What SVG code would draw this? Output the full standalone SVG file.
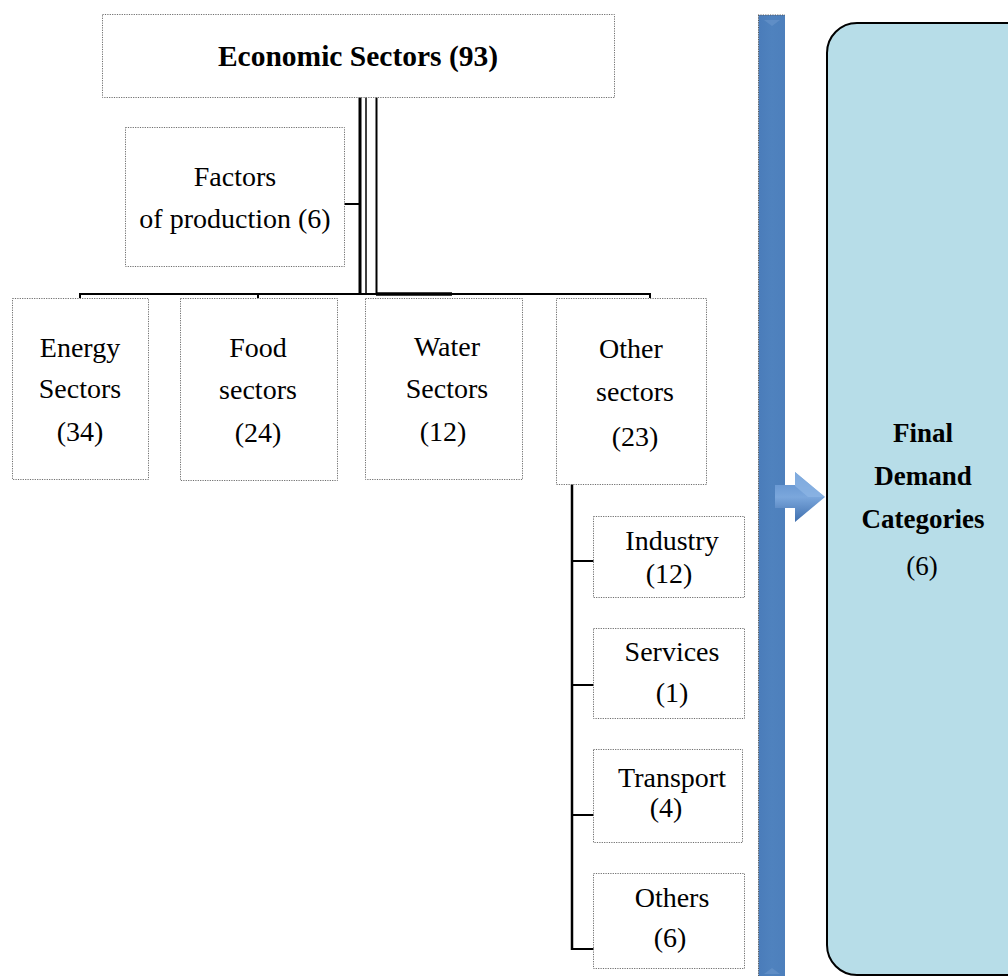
<svg xmlns="http://www.w3.org/2000/svg" width="1008" height="976" viewBox="0 0 1008 976">
  <style>
    .box { fill: #ffffff; stroke: #6e6e6e; stroke-width: 1; stroke-dasharray: 1.2 1.2; }
    .lbl { font-family: "Liberation Serif", "Times New Roman", serif; font-size: 28px; fill: #000; text-anchor: middle; }
    .bold { font-weight: bold; }
    .head { font-size: 29.5px; }
    .fd { font-size: 27px; }
    .wire { stroke: #000; fill: none; }
  </style>
  <defs>
    <linearGradient id="barGrad" x1="0" y1="0" x2="1" y2="0">
      <stop offset="0" stop-color="#4a7cba"/>
      <stop offset="0.5" stop-color="#4f82be"/>
      <stop offset="1" stop-color="#4d7fbc"/>
    </linearGradient>
    <linearGradient id="arrowGrad" x1="0" y1="0" x2="0" y2="1">
      <stop offset="0" stop-color="#5a8ccb"/>
      <stop offset="0.5" stop-color="#7ba7dc"/>
      <stop offset="1" stop-color="#3f6fae"/>
    </linearGradient>
  </defs>

  <rect width="1008" height="976" fill="#ffffff"/>

  <!-- connectors -->
  <g id="connectors">
    <!-- trunk from the top box -->
    <line class="wire" x1="360" y1="97" x2="360" y2="295" stroke-width="3"/>
    <line class="wire" x1="366" y1="97" x2="366" y2="295" stroke-width="1.5"/>
    <line class="wire" x1="376.5" y1="97" x2="376.5" y2="295" stroke-width="2"/>
    <!-- factors branch -->
    <line class="wire" x1="344" y1="204" x2="360" y2="204" stroke-width="2"/>
    <!-- horizontal bus -->
    <line class="wire" x1="79" y1="294" x2="651" y2="294" stroke-width="2"/>
    <line class="wire" x1="376" y1="294" x2="452" y2="294" stroke-width="3.5"/>
    <line class="wire" x1="80" y1="293" x2="80" y2="298" stroke-width="2"/>
    <line class="wire" x1="258" y1="293" x2="258" y2="298" stroke-width="2"/>
    <line class="wire" x1="650" y1="293" x2="650" y2="298" stroke-width="2"/>
    <!-- other sectors spine -->
    <line class="wire" x1="572" y1="484" x2="572" y2="950" stroke-width="2.5"/>
    <line class="wire" x1="571" y1="561" x2="594" y2="561" stroke-width="2"/>
    <line class="wire" x1="571" y1="685" x2="594" y2="685" stroke-width="2"/>
    <line class="wire" x1="571" y1="815" x2="594" y2="815" stroke-width="2"/>
    <line class="wire" x1="571" y1="949" x2="594" y2="949" stroke-width="2"/>
  </g>

  <g id="economic-sectors">
    <rect class="box" x="102.5" y="14.5" width="512" height="83"/>
    <text class="lbl bold head" x="358" y="66">Economic Sectors (93)</text>
  </g>

  <g id="factors">
    <rect class="box" x="125.5" y="127.5" width="219" height="139"/>
    <text class="lbl" x="235" y="186">Factors</text>
    <text class="lbl" x="235" y="228">of production (6)</text>
  </g>

  <g id="energy">
    <rect class="box" x="12.5" y="298.5" width="136" height="181"/>
    <text class="lbl" x="80" y="357">Energy</text>
    <text class="lbl" x="80" y="398">Sectors</text>
    <text class="lbl" x="80" y="441">(34)</text>
  </g>

  <g id="food">
    <rect class="box" x="180.5" y="298.5" width="157" height="182"/>
    <text class="lbl" x="258" y="357">Food</text>
    <text class="lbl" x="258" y="399">sectors</text>
    <text class="lbl" x="258" y="442">(24)</text>
  </g>

  <g id="water">
    <rect class="box" x="365.5" y="298.5" width="157" height="181"/>
    <text class="lbl" x="447" y="356">Water</text>
    <text class="lbl" x="447" y="398">Sectors</text>
    <text class="lbl" x="443" y="441">(12)</text>
  </g>

  <g id="other">
    <rect class="box" x="556.5" y="298.5" width="150" height="186"/>
    <text class="lbl" x="631" y="358">Other</text>
    <text class="lbl" x="635" y="401">sectors</text>
    <text class="lbl" x="635" y="446">(23)</text>
  </g>

  <g id="industry">
    <rect class="box" x="593.5" y="516.5" width="151" height="81"/>
    <text class="lbl" x="672" y="550">Industry</text>
    <text class="lbl" x="669" y="583">(12)</text>
  </g>

  <g id="services">
    <rect class="box" x="593.5" y="628.5" width="151" height="90"/>
    <text class="lbl" x="672" y="661">Services</text>
    <text class="lbl" x="672" y="702">(1)</text>
  </g>

  <g id="transport">
    <rect class="box" x="593.5" y="749.5" width="149" height="93"/>
    <text class="lbl" x="672" y="787">Transport</text>
    <text class="lbl" x="666" y="817">(4)</text>
  </g>

  <g id="others">
    <rect class="box" x="593.5" y="873.5" width="151" height="95"/>
    <text class="lbl" x="672" y="907">Others</text>
    <text class="lbl" x="670" y="947">(6)</text>
  </g>

  <!-- vertical feed bar with arrow into final demand -->
  <g id="feed-bar">
    <rect x="758.5" y="15" width="26.5" height="962" fill="url(#barGrad)"/>
    <line x1="758.5" y1="15" x2="758.5" y2="976" stroke="#5a5a5a" stroke-width="1" stroke-dasharray="1.2 1.2"/>
    <line x1="758" y1="15" x2="785" y2="15" stroke="#5a5a5a" stroke-width="1" stroke-dasharray="1.2 1.2"/>
    <polygon points="764,20 780,20 772,26" fill="#6a96cc" opacity="0.6"/>
    <polygon points="764,974 780,974 772,968" fill="#6a96cc" opacity="0.6"/>
    <polygon points="775,485 795,485 795,472 825,497 795,522 795,508 775,508" fill="url(#arrowGrad)"/>
    <polygon points="795,472 825,497 808,497 795,486" fill="#8fb6e6" opacity="0.7"/>
  </g>

  <g id="final-demand">
    <rect x="827" y="23" width="210" height="952" rx="30" ry="30" fill="#b7dde8" stroke="#000" stroke-width="2"/>
    <text class="lbl bold fd" x="923" y="442">Final</text>
    <text class="lbl bold fd" x="923" y="485">Demand</text>
    <text class="lbl bold fd" x="923" y="528">Categories</text>
    <text class="lbl fd" x="922" y="575">(6)</text>
  </g>
</svg>
